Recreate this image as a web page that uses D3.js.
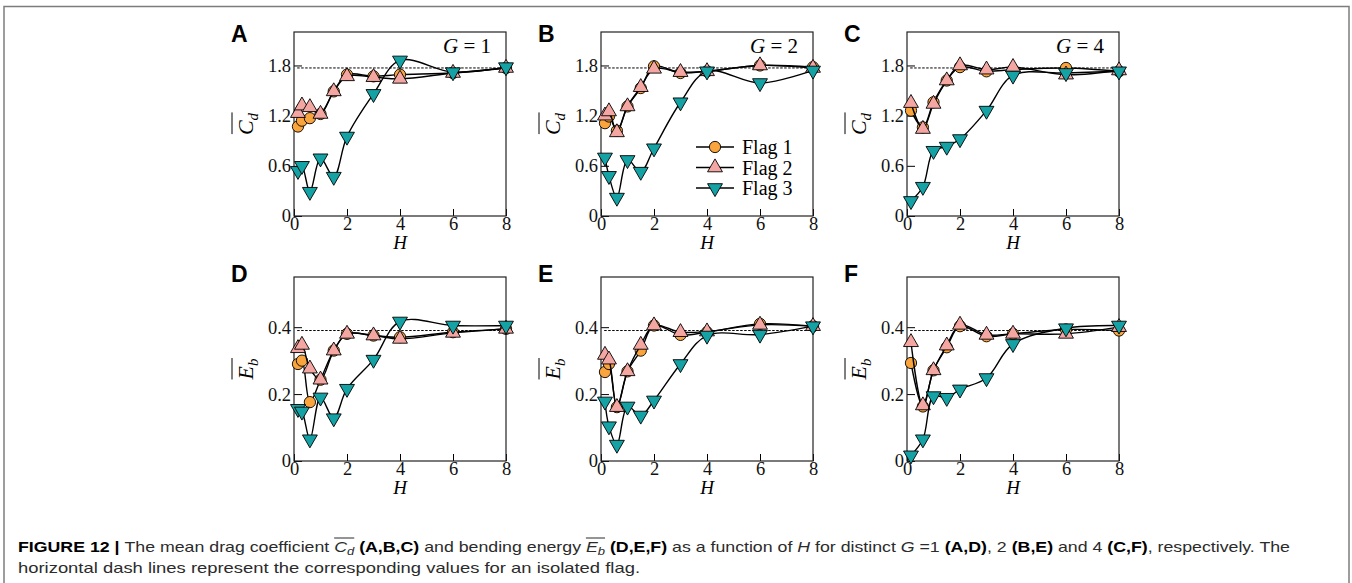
<!DOCTYPE html>
<html lang="en">
<head>
    <meta charset="UTF-8">
    <title>Mean drag coefficient and bending energy vs H</title>
    <script src="https://d3js.org/d3.v7.min.js"></script>
    <style>
        body { margin: 0; background: #fff; }
        svg { display: block; }
    </style>
</head>
<body>
    <svg id="chart"></svg>
    <script>
        // Spacing H (x values shared by every series, null = no point)
        const H = [0.15, 0.3, 0.6, 1, 1.5, 2, 3, 4, 6, 8];
        const xTicks = [0, 2, 4, 6, 8];
        const cdTicks = [0, 0.6, 1.2, 1.8];
        const ebTicks = [0, 0.2, 0.4];
        const gValues = [1, 2, 4];
        const panelLetters = ["A", "B", "C", "D", "E", "F"];
        const flagNames = ["Flag 1", "Flag 2", "Flag 3"];

        // isolated flag values (dashed lines)
        const cdIsolated = 1.77;
        const ebIsolated = 0.39;

        // mean drag coefficient
        const cdG1Flag1 = [1.07, 1.14, 1.17, 1.22, 1.49, 1.69, 1.67, 1.69, 1.71, 1.77];
        const cdG1Flag2 = [1.23, 1.32, 1.30, 1.22, 1.49, 1.67, 1.66, 1.64, 1.71, 1.77];
        const cdG1Flag3 = [0.54, 0.60, 0.29, 0.69, 0.47, 0.95, 1.46, 1.86, 1.72, 1.78];
        const cdG2Flag1 = [1.11, 1.19, 1.02, 1.31, 1.53, 1.79, 1.71, 1.73, 1.80, 1.78];
        const cdG2Flag2 = [1.20, 1.25, 1.00, 1.31, 1.54, 1.76, 1.72, 1.73, 1.80, 1.77];
        const cdG2Flag3 = [0.70, 0.48, 0.22, 0.67, 0.53, 0.81, 1.36, 1.73, 1.59, 1.74];
        const cdG4Flag1 = [1.26, null, 1.06, 1.36, 1.62, 1.78, 1.73, 1.75, 1.77, 1.73];
        const cdG4Flag2 = [1.35, null, 1.04, 1.34, 1.62, 1.80, 1.75, 1.78, 1.69, 1.74];
        const cdG4Flag3 = [0.18, null, 0.35, 0.78, 0.83, 0.92, 1.26, 1.68, 1.71, 1.73];

        // mean bending energy
        const ebG1Flag1 = [0.290, 0.300, 0.176, 0.243, 0.330, 0.380, 0.375, 0.370, 0.385, 0.395];
        const ebG1Flag2 = [0.337, 0.347, 0.276, 0.243, 0.330, 0.380, 0.375, 0.365, 0.383, 0.395];
        const ebG1Flag3 = [0.156, 0.148, 0.065, 0.190, 0.128, 0.216, 0.303, 0.417, 0.405, 0.405];
        const ebG2Flag1 = [0.266, 0.290, 0.161, 0.268, 0.330, 0.405, 0.377, 0.385, 0.410, 0.403];
        const ebG2Flag2 = [0.317, 0.303, 0.161, 0.268, 0.347, 0.405, 0.385, 0.387, 0.407, 0.403];
        const ebG2Flag3 = [0.178, 0.104, 0.049, 0.163, 0.136, 0.181, 0.290, 0.375, 0.378, 0.403];
        const ebG4Flag1 = [0.293, null, 0.163, 0.271, 0.340, 0.403, 0.373, 0.380, 0.393, 0.390];
        const ebG4Flag2 = [0.355, null, 0.166, 0.271, 0.345, 0.407, 0.377, 0.380, 0.380, 0.400];
        const ebG4Flag3 = [0.017, null, 0.065, 0.194, 0.189, 0.214, 0.248, 0.350, 0.397, 0.405];

        const cdSeries = [
            [cdG1Flag1, cdG1Flag2, cdG1Flag3],
            [cdG2Flag1, cdG2Flag2, cdG2Flag3],
            [cdG4Flag1, cdG4Flag2, cdG4Flag3]
        ];
        const ebSeries = [
            [ebG1Flag1, ebG1Flag2, ebG1Flag3],
            [ebG2Flag1, ebG2Flag2, ebG2Flag3],
            [ebG4Flag1, ebG4Flag2, ebG4Flag3]
        ];

        // Layout
        const W = 1352, Hpx = 583;
        const colLeft = [294, 601, 907];
        const rowTop = [32, 277];
        const plotW = 212, plotH = 184;
        const letterBaseline = [42, 282];
        const serif = "'Liberation Serif', 'Times New Roman', serif";
        const sans = "'Liberation Sans', Arial, sans-serif";
        const colors = ["#f9a43c", "#f3a6a2", "#14a2a5"];
        const tri = d3.symbol().type(d3.symbolTriangle).size(96);
        const circ = d3.symbol().type(d3.symbolCircle).size(100);

        const svg = d3.select("#chart").attr("width", W).attr("height", Hpx);

        // outer frame (open at the bottom)
        svg.append("path")
            .attr("d", `M4,${Hpx} V6.5 H1349 V${Hpx}`)
            .attr("fill", "none")
            .attr("stroke", "#7d7d7d")
            .attr("stroke-width", 1.5);

        const fmt = d => d === 0 ? "0" : d.toFixed(1);

        function drawMarker(sel, i) {
            if (i === 0) return sel.attr("d", circ());
            return sel.attr("d", tri());
        }

        function drawPanel(row, col) {
            const isCd = row === 0;
            const data = isCd ? cdSeries[col] : ebSeries[col];
            const left = colLeft[col], top = rowTop[row];
            const g = svg.append("g").attr("transform", `translate(${left},${top})`);

            const x = d3.scaleLinear().domain([0, 8]).range([0, plotW]);
            const y = d3.scaleLinear().domain(isCd ? [0, 2.2] : [0, 0.55]).range([plotH, 0]);

            // x axis with inward ticks
            const xa = g.append("g")
                .attr("transform", `translate(0,${plotH})`)
                .call(d3.axisBottom(x).tickValues(xTicks).tickFormat(d3.format("d"))
                    .tickSizeInner(-7).tickSizeOuter(0).tickPadding(1));
            xa.attr("font-family", serif).attr("font-size", 18.5);
            xa.select(".domain").remove();
            xa.selectAll("text").attr("fill", "#111");

            const ya = g.append("g")
                .call(d3.axisLeft(y).tickValues(isCd ? cdTicks : ebTicks).tickFormat(fmt)
                    .tickSizeInner(-8).tickSizeOuter(0).tickPadding(3));
            ya.attr("font-family", serif).attr("font-size", 18.5);
            ya.select(".domain").remove();
            ya.selectAll("text").attr("fill", "#111");

            // plot box
            g.append("rect")
                .attr("width", plotW).attr("height", plotH)
                .attr("fill", "none").attr("stroke", "#222").attr("stroke-width", 1.2);

            // isolated flag reference
            const ref = isCd ? cdIsolated : ebIsolated;
            g.append("line")
                .attr("x1", x(0.12)).attr("x2", x(8.05))
                .attr("y1", y(ref)).attr("y2", y(ref))
                .attr("stroke", "#000").attr("stroke-width", 1)
                .attr("stroke-dasharray", "2.5,1.5");

            const line = d3.line()
                .x(d => x(d[0]))
                .y(d => y(d[1]))
                .curve(d3.curveCatmullRom.alpha(0.5));

            data.forEach((vals, i) => {
                const pts = H.map((h, k) => [h, vals[k]]).filter(d => d[1] != null);
                g.append("path")
                    .datum(pts)
                    .attr("d", line)
                    .attr("fill", "none")
                    .attr("stroke", "#000")
                    .attr("stroke-width", 1.4);

                g.append("g").selectAll("path")
                    .data(pts)
                    .join("path")
                    .call(drawMarker, i)
                    .attr("fill", colors[i])
                    .attr("stroke", "#000")
                    .attr("stroke-width", 0.9)
                    .attr("transform", d => `translate(${x(d[0])},${y(d[1])})` + (i === 2 ? " rotate(180)" : ""));
            });

            // axis title H
            g.append("text")
                .attr("x", plotW / 2).attr("y", plotH + 33)
                .attr("text-anchor", "middle")
                .attr("font-family", serif).attr("font-size", 19)
                .attr("font-style", "italic")
                .text("H");

            // y title with overline
            const yl = g.append("g")
                .attr("transform", `translate(${-41},${plotH / 2}) rotate(-90)`);
            const yt = yl.append("text")
                .attr("text-anchor", "middle")
                .attr("font-family", serif).attr("font-size", 22)
                .attr("font-style", "italic");
            yt.append("tspan").text(isCd ? "C" : "E");
            yt.append("tspan").attr("font-size", 15).attr("dy", 5).text(isCd ? "d" : "b");
            const bb = yt.node().getBBox();
            yl.append("line")
                .attr("x1", bb.x + 1).attr("x2", bb.x + bb.width)
                .attr("y1", -21).attr("y2", -21)
                .attr("stroke", "#000").attr("stroke-width", 1);

            // panel letter
            svg.append("text")
                .attr("x", left - 63).attr("y", letterBaseline[row])
                .attr("font-family", sans).attr("font-weight", "bold")
                .attr("font-size", 23)
                .text(panelLetters[row * 3 + col]);

            // G label
            if (isCd) {
                const gl = g.append("text")
                    .attr("x", plotW - 15).attr("y", 21)
                    .attr("text-anchor", "end")
                    .attr("font-family", serif).attr("font-size", 21);
                gl.append("tspan").attr("font-style", "italic").text("G");
                gl.append("tspan").text(" = " + gValues[col]);
            }

            // legend in panel B
            if (row === 0 && col === 1) {
                const legY = [147, 167.5, 188];
                flagNames.forEach((name, i) => {
                    const lg = svg.append("g").attr("transform", `translate(0,${legY[i]})`);
                    lg.append("line").attr("x1", 696).attr("x2", 734)
                        .attr("stroke", "#000").attr("stroke-width", 1.4);
                    lg.append("path")
                        .call(drawMarker, i)
                        .attr("fill", colors[i]).attr("stroke", "#000").attr("stroke-width", 0.9)
                        .attr("transform", "translate(715,0)" + (i === 2 ? " rotate(180)" : ""));
                    lg.append("text").attr("x", 742).attr("dy", "0.35em")
                        .attr("font-family", serif).attr("font-size", 20)
                        .text(name);
                });
            }
        }

        [0, 1].forEach(r => [0, 1, 2].forEach(c => drawPanel(r, c)));

        // caption
        const captionLine1 = [
            ["FIGURE 12 | ", "b"], ["The mean drag coefficient ", ""], ["C", "i", "o"], ["d", "s", "o"],
            [" ", ""], ["(A,B,C)", "b"], [" and bending energy ", ""], ["E", "i", "o"], ["b", "s", "o"],
            [" ", ""], ["(D,E,F)", "b"], [" as a function of ", ""], ["H", "i"], [" for distinct ", ""],
            ["G", "i"], [" =1 ", ""], ["(A,D)", "b"], [", 2 ", ""], ["(B,E)", "b"], [" and 4 ", ""],
            ["(C,F)", "b"], [", respectively. The", ""]
        ];
        const captionLine2 = "horizontal dash lines represent the corresponding values for an isolated flag.";

        const c1 = svg.append("text")
            .attr("x", 18).attr("y", 552)
            .attr("font-family", sans).attr("font-size", 15)
            .attr("fill", "#2b2b2b")
            .attr("textLength", 1272).attr("lengthAdjust", "spacingAndGlyphs")
            .style("white-space", "pre");
        let charIdx = 0, runStart = null, prevSub = false;
        const overRuns = [];
        captionLine1.forEach(([t, s, o]) => {
            const ts = c1.append("tspan").text(t);
            if (s === "b") ts.attr("font-weight", "bold").attr("fill", "#000");
            if (s === "i") ts.attr("font-style", "italic");
            if (s === "s") ts.attr("font-style", "italic").attr("font-size", 11).attr("dy", 3);
            else if (prevSub) ts.attr("dy", -3);
            prevSub = s === "s";
            if (o && runStart === null) runStart = charIdx;
            if (!o && runStart !== null) { overRuns.push([runStart, charIdx - 1]); runStart = null; }
            charIdx += t.length;
        });
        const c1n = c1.node();
        overRuns.forEach(([a, b]) => {
            svg.append("line")
                .attr("x1", c1n.getStartPositionOfChar(a).x)
                .attr("x2", c1n.getEndPositionOfChar(b).x)
                .attr("y1", 538).attr("y2", 538)
                .attr("stroke", "#2b2b2b").attr("stroke-width", 1);
        });

        svg.append("text")
            .attr("x", 18).attr("y", 573)
            .attr("font-family", sans).attr("font-size", 15)
            .attr("fill", "#2b2b2b")
            .attr("textLength", 622).attr("lengthAdjust", "spacingAndGlyphs")
            .text(captionLine2);
    </script>
</body>
</html>
